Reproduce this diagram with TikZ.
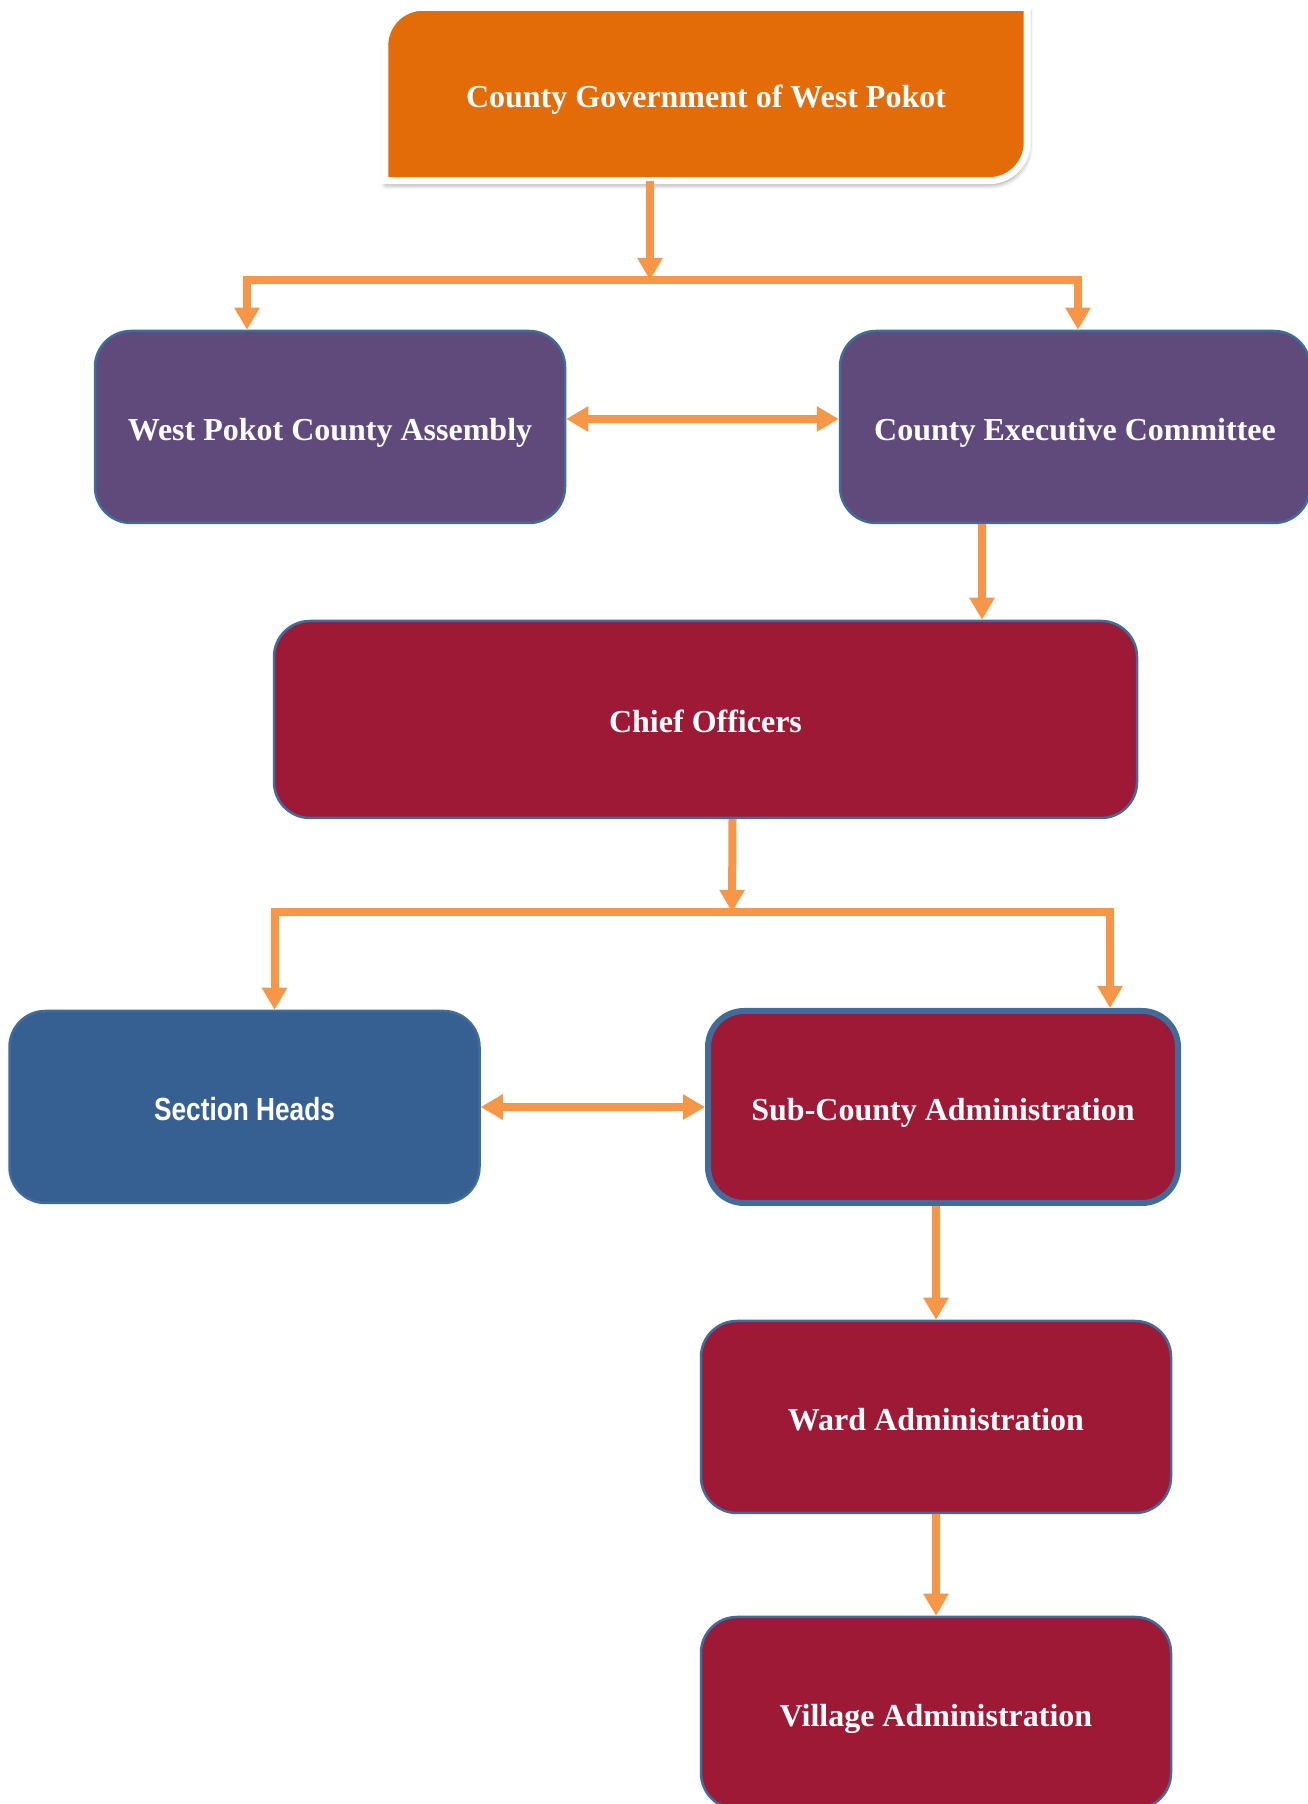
\documentclass[tikz,border=0pt]{standalone}
\usepackage{fontspec}
\setmainfont{Liberation Serif}
\newfontfamily\narrowsans[FakeStretch=0.82]{Liberation Sans}
\usepackage{xcolor}
\usetikzlibrary{arrows.meta,shadows.blur,backgrounds}

\definecolor{govorange}{HTML}{E36C09}
\definecolor{panelpurple}{HTML}{604A7B}
\definecolor{officered}{HTML}{9D1935}
\definecolor{sectionblue}{HTML}{376092}
\definecolor{edgeblue}{HTML}{3F6C9A}
\definecolor{floworange}{HTML}{F79646}

\begin{document}
\begin{tikzpicture}[x=1pt,y=1pt,
    orgbox/.style={draw=edgeblue, line width=2.5pt, rounded corners=36pt,
        minimum width=470pt, minimum height=192pt, text=white, align=center,
        text height=27pt, text depth=0pt,
        font=\fontsize{32}{38}\selectfont\bfseries},
    flow/.style={draw=floworange, line width=8pt},
    >={Triangle[width=24pt,length=22pt]}]
    \useasboundingbox (0,0) rectangle (1308,1804);

    % Top level
    \node[minimum width=642pt, minimum height=173pt, text=white,
        text height=27pt, text depth=0pt,
        font=\fontsize{32}{38}\selectfont\bfseries] (gov) at (706,1710) {County Government of West Pokot};
    \begin{scope}[on background layer]
        \filldraw[fill=govorange, draw=white, line width=7pt,
            blur shadow={shadow xshift=1pt, shadow yshift=-4pt, shadow blur radius=5pt, shadow opacity=45}]
            (gov.south west) -- ([yshift=-38pt]gov.north west)
            arc[start angle=180, end angle=90, radius=38pt] -- (gov.north east)
            -- ([yshift=38pt]gov.south east)
            arc[start angle=0, end angle=-90, radius=38pt] -- cycle;
    \end{scope}

    % Assembly and executive
    \node[orgbox, fill=panelpurple] (assembly) at (330,1377) {West Pokot County Assembly};
    \node[orgbox, fill=panelpurple] (cec) at (1075,1377) {County Executive Committee};

    % Chief officers
    \node[orgbox, fill=officered, minimum width=863pt, minimum height=197pt] (chief) at (705.5,1084.5) {Chief Officers};

    % Section heads and administration
    \node[orgbox, fill=sectionblue, font=\fontsize{32}{38}\selectfont\narrowsans\bfseries] (section) at (244.5,697) {Section Heads};
    \node[orgbox, fill=officered, line width=6pt] (subcounty) at (943,697) {Sub-County Administration};
    \node[orgbox, fill=officered] (ward) at (936,387) {Ward Administration};
    \node[orgbox, fill=officered] (village) at (936,91) {Village Administration};

    % Connectors
    \coordinate (bar1) at (650,1524);
    \coordinate (bar2) at (732,892);
    \coordinate (cecdrop) at ([xshift=-93pt]cec.south);

    \draw[flow,->] ([xshift=-56pt]gov.south) -- (bar1);
    \draw[flow,<->] ([xshift=-83pt]assembly.north) |- (bar1) -| ([xshift=3pt]cec.north);
    \draw[flow,<->] ([yshift=8pt]assembly.east) -- ([yshift=8pt]cec.west);
    \draw[flow,->] (cecdrop) -- (cecdrop |- chief.north);
    \draw[flow,->] ([xshift=27pt]chief.south) -- (bar2);
    \draw[flow,<->] ([xshift=30pt]section.north) |- (bar2) -| ([xshift=167pt]subcounty.north);
    \draw[flow,<->] (section.east) -- (subcounty.west);
    \draw[flow,->] (subcounty.south -| ward.north) -- (ward.north);
    \draw[flow,->] (ward.south) -- (village.north);
\end{tikzpicture}
\end{document}
